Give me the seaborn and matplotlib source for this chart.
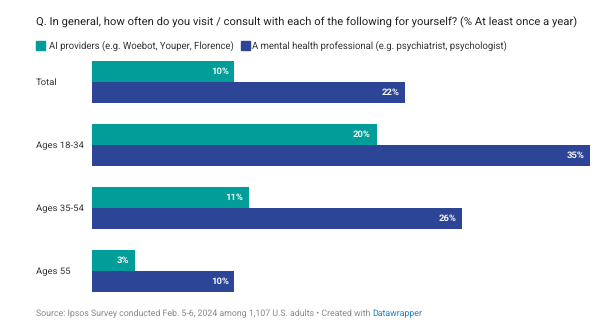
import matplotlib
matplotlib.use("Agg")
import matplotlib.pyplot as plt
import seaborn as sns
import pandas as pd
from matplotlib.patches import Rectangle

# Survey results (% at least once a year)
groups = ["Total", "Ages 18-34", "Ages 35-54", "Ages 55"]
series = ["AI providers (e.g. Woebot, Youper, Florence)",
          "A mental health professional (e.g. psychiatrist, psychologist)"]
ai_values = [10, 20, 11, 3]
professional_values = [22, 35, 26, 10]
colors = ["#009d99", "#2c4597"]

title = "Q. In general, how often do you visit / consult with each of the following for yourself? (% At least once a year)"
source = "Source: Ipsos Survey conducted Feb. 5-6, 2024 among 1,107 U.S. adults \u2022 Created with "
credit = "Datawrapper"

df = pd.DataFrame({
    "group": groups * 2,
    "series": [series[0]] * len(groups) + [series[1]] * len(groups),
    "value": ai_values + professional_values,
})

sns.set_style("white")
plt.rcParams["font.family"] = ["Roboto", "DejaVu Sans"]
plt.rcParams["text.hinting"] = "no_hinting"

W, H = 602, 331
fig = plt.figure(figsize=(W / 100, H / 100), dpi=100)
ax = fig.add_axes([92 / W, 1 - 292 / H, (590 - 92) / W, (292 - 61) / H])

sns.barplot(data=df, y="group", x="value", hue="series", order=groups,
            hue_order=series, palette=colors, orient="h", width=0.667,
            dodge=True, saturation=1, legend=False, ax=ax, linewidth=0)

ax.set_xlim(0, 35)
ax.set_ylim(3.333, -0.333)
for s in ax.spines.values():
    s.set_visible(False)
ax.set_xticks([])
ax.set_xlabel("")
ax.set_ylabel("")
ax.set_yticks(range(len(groups)))
ax.set_yticklabels([])
ax.tick_params(left=False)

# Category labels on the left
for i, g in enumerate(groups):
    fig.text(36 / W, 1 - (82.5 + 63 * i) / H, g, fontsize=6.8, color="#333333",
             ha="left", va="center")

# Value labels inside bar ends
for container in ax.containers:
    labels = ax.bar_label(container,
                          labels=[f"{v:.0f}%" for v in container.datavalues],
                          label_type="edge", padding=-4, color="#f4f4f4",
                          fontsize=6.8, fontweight="bold")
    for t in labels:
        t.set_ha("right")

# Title
fig.text(36 / W, 1 - 22 / H, title, fontsize=8.12, color="#222222",
         ha="left", va="center")

# Legend
fig.patches.append(Rectangle((36 / W, 1 - 50 / H), 9 / W, 9 / H,
                             transform=fig.transFigure, color=colors[0]))
fig.text(49 / W, 1 - 45.5 / H, series[0], fontsize=6.85, color="#333333",
         ha="left", va="center")
fig.patches.append(Rectangle((240.5 / W, 1 - 50 / H), 9 / W, 9 / H,
                             transform=fig.transFigure, color=colors[1]))
fig.text(252.5 / W, 1 - 45.5 / H, series[1], fontsize=6.85, color="#333333",
         ha="left", va="center")

# Source line
src = fig.text(36 / W, 1 - 314 / H, source, fontsize=6.35, color="#888888",
               ha="left", va="center")
fig.canvas.draw()
bb = src.get_window_extent()
fig.text(bb.x1 / W, 1 - 314 / H, credit, fontsize=6.35, color="#1d81c4",
         ha="left", va="center")

fig.savefig("out.png", dpi=100)
